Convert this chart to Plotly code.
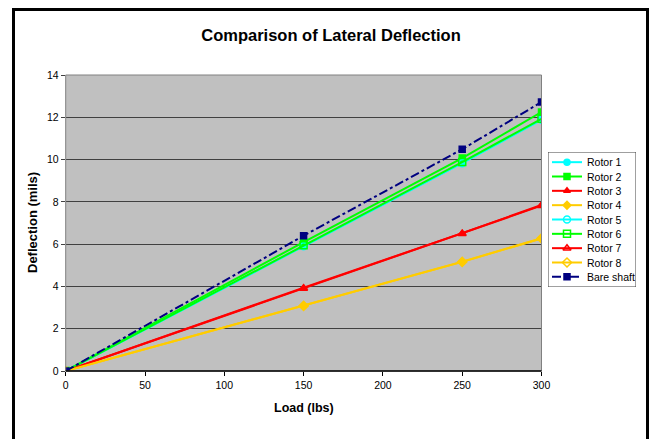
import plotly.graph_objects as go

load = [0, 150, 250, 300]
rotor1 = [0, 5.92, 9.85, 11.9]
rotor2 = [0, 6.1, 10.07, 12.25]
rotor3 = [0, 3.94, 6.52, 7.85]
rotor4 = [0, 3.09, 5.17, 6.28]
rotor5 = [0, 5.9, 9.83, 11.88]
rotor6 = [0, 5.95, 9.88, 11.93]
rotor7 = [0, 3.9, 6.49, 7.82]
rotor8 = [0, 3.08, 5.16, 6.27]
bare_shaft = [0, 6.4, 10.49, 12.72]

names = ["Rotor 1", "Rotor 2", "Rotor 3", "Rotor 4", "Rotor 5", "Rotor 6",
         "Rotor 7", "Rotor 8", "Bare shaft"]
series = [rotor1, rotor2, rotor3, rotor4, rotor5, rotor6, rotor7, rotor8, bare_shaft]
colors = ["#00FFFF", "#00FF00", "#FF0000", "#FFCC00", "#00FFFF", "#00FF00",
          "#FF0000", "#FFCC00", "#000080"]
symbols = ["circle", "square", "triangle-up", "diamond",
           "circle-open", "square-open", "triangle-up-open", "diamond-open", "square"]
dashes = ["solid"] * 8 + ["dashdot"]

W, H = 655, 439
# main plot area in pixels
PL, PR, PT, PB = 65.7, 541.5, 75, 371
# legend box in pixels
LL, LR, LT, LB = 548, 636, 152, 287


def fx(p):
    return p / W


def fy(p):
    return (H - p) / H


def msize(sym):
    return 7 if "open" in sym else 6


fig = go.Figure()
for n, s, c, sym, d in zip(names, series, colors, symbols, dashes):
    fig.add_trace(go.Scatter(
        x=load, y=s, name=n, mode="lines+markers", showlegend=False,
        line=dict(color=c, width=2, dash=d),
        marker=dict(color=c, symbol=sym, size=msize(sym), line=dict(color=c, width=1.5)),
        xaxis="x", yaxis="y",
    ))

# manual legend (drawn on a helper subplot measured in pixels)
row_h = (LB - LT - 6) / len(names)
shapes = []
annotations = []
for i, (n, c, sym, d) in enumerate(zip(names, colors, symbols, dashes)):
    yc = LT + 3 + row_h * (i + 0.5)
    shapes.append(dict(type="line", xref="x2", yref="y2", x0=552, x1=582, y0=yc, y1=yc,
                       line=dict(color=c, width=2, dash=d), layer="above"))
    fig.add_trace(go.Scatter(
        x=[567], y=[yc], mode="markers", showlegend=False, hoverinfo="skip",
        marker=dict(color=c, symbol=sym, size=msize(sym), line=dict(color=c, width=1.5)),
        xaxis="x2", yaxis="y2", cliponaxis=False,
    ))
    annotations.append(dict(text=n, xref="x2", yref="y2", x=585, y=yc, xanchor="left",
                            yanchor="middle", showarrow=False, font=dict(size=10.5)))

shapes.insert(0, dict(type="rect", xref="x2", yref="y2", x0=LL, x1=LR, y0=LT, y1=LB,
                      fillcolor="white", line=dict(color="#404040", width=1), layer="below"))
shapes += [
    dict(type="rect", xref="x domain", yref="y domain", x0=0, x1=1, y0=0, y1=1,
         line=dict(color="#808080", width=1), layer="above"),
    dict(type="line", xref="x domain", yref="y domain", x0=0, x1=1, y0=0, y1=0,
         line=dict(color="black", width=1.5), layer="above"),
    dict(type="rect", xref="paper", yref="paper",
         x0=fx(13.5), x1=fx(647.5), y0=fy(460), y1=fy(9.5),
         line=dict(color="black", width=3), layer="below"),
]

annotations += [
    dict(text="<b>Load (lbs)</b>", xref="paper", yref="paper", x=fx((PL + PR) / 2),
         y=fy(408), xanchor="center", yanchor="middle", showarrow=False,
         font=dict(size=12.5)),
    dict(text="<b>Deflection (mils)</b>", xref="paper", yref="paper", x=fx(32),
         y=fy(223), xanchor="center", yanchor="middle", showarrow=False,
         textangle=-90, font=dict(size=13)),
]

fig.update_layout(
    width=W, height=H,
    margin=dict(l=0, r=0, t=0, b=0),
    paper_bgcolor="white",
    plot_bgcolor="#C0C0C0",
    showlegend=False,
    font=dict(family="Liberation Sans, Arial, sans-serif", size=10.5, color="black"),
    title=dict(text="<b>Comparison of Lateral Deflection</b>", x=fx(331), xref="container",
               xanchor="center", y=fy(35), yref="container", yanchor="middle",
               font=dict(size=16.5, color="black")),
    xaxis=dict(domain=[fx(PL), fx(PR)], range=[0, 300],
               tickvals=[0, 50, 100, 150, 200, 250, 300],
               showgrid=False, zeroline=False, showline=False,
               ticks="outside", ticklen=4, tickcolor="black", automargin=False),
    yaxis=dict(domain=[fy(PB), fy(PT)], range=[0, 14], tickvals=list(range(0, 15, 2)),
               showgrid=True, gridcolor="#404040", gridwidth=1, zeroline=False,
               showline=False, ticks="outside", ticklen=4, tickcolor="#404040",
               automargin=False),
    xaxis2=dict(domain=[fx(LL), fx(LR)], range=[LL, LR], visible=False, anchor="y2"),
    yaxis2=dict(domain=[fy(LB), fy(LT)], range=[LB, LT], visible=False, anchor="x2"),
    shapes=shapes,
    annotations=annotations,
)

fig.write_html("out.html")
